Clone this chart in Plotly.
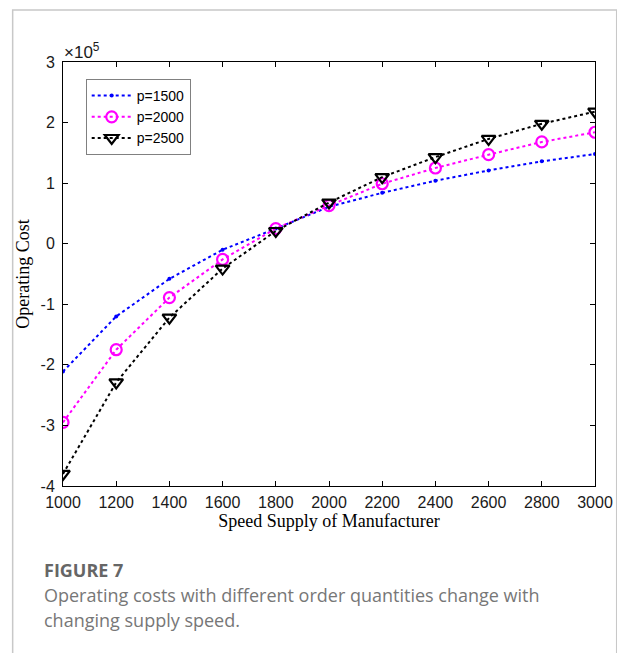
import plotly.graph_objects as go

speed = [1000, 1200, 1400, 1600, 1800, 2000, 2200, 2400, 2600, 2800, 3000]
p1500 = [-2.11, -1.20, -0.58, -0.10, 0.25, 0.61, 0.84, 1.04, 1.21, 1.36, 1.48]
p2000 = [-2.95, -1.75, -0.89, -0.26, 0.25, 0.63, 0.99, 1.25, 1.47, 1.68, 1.84]
p2500 = [-3.80, -2.29, -1.22, -0.41, 0.21, 0.68, 1.10, 1.43, 1.73, 1.98, 2.18]
x_ticks = [1000, 1200, 1400, 1600, 1800, 2000, 2200, 2400, 2600, 2800, 3000]
y_ticks = [-4, -3, -2, -1, 0, 1, 2, 3]
y_tick_text = ["-4", "-3", "-2", "-1", "0", "1", "2", "3"]

# page body has an 8px margin; work in reference pixels and shift
OFF = 8
W, H = 625 - OFF, 653 - OFF
L, R, T, B = 63 - OFF, 602 - OFF, 62 - OFF, 486 - OFF

def px(x):
    return (x - OFF - L) / (R - L)

def py(y):
    return (B - (y - OFF)) / (B - T)

fig = go.Figure()
fig.add_trace(go.Scatter(x=speed, y=p1500, name="p=1500", mode="lines+markers",
                         line=dict(color="#0000ff", width=2, dash="dot"),
                         marker=dict(symbol="circle", size=4, color="#0000ff")))
fig.add_trace(go.Scatter(x=speed, y=p2000, name="p=2000", mode="lines+markers",
                         line=dict(color="#ff00ff", width=2, dash="dot"),
                         marker=dict(symbol="circle-open", size=11, color="#ff00ff",
                                     line=dict(width=2.2, color="#ff00ff"))))
fig.add_trace(go.Scatter(x=speed, y=p2500, name="p=2500", mode="lines+markers",
                         line=dict(color="#000000", width=2, dash="dot"),
                         marker=dict(symbol="triangle-down-open", size=12, color="#000000",
                                     line=dict(width=2.2, color="#000000"))))

axis_common = dict(showline=True, linecolor="black", linewidth=1, mirror="ticks",
                   ticks="inside", ticklen=5, tickcolor="black", showgrid=False,
                   zeroline=False, tickfont=dict(family="Arial, Liberation Sans", size=16, color="#1a1a1a"))

fig.update_layout(
    width=W, height=H,
    margin=dict(l=L, r=W - R, t=T, b=H - B),
    paper_bgcolor="white", plot_bgcolor="white",
    xaxis=dict(range=[1000, 3000], tickvals=x_ticks, ticklabelstandoff=2,
               title=dict(text="Speed Supply of Manufacturer", standoff=2,
                          font=dict(family="Liberation Serif", size=18, color="black")),
               **axis_common),
    yaxis=dict(range=[-4, 3], tickvals=y_ticks, ticktext=y_tick_text, ticklabelstandoff=4,
               title=dict(text="Operating Cost", standoff=6,
                          font=dict(family="Liberation Serif", size=18, color="black")),
               **axis_common),
    legend=dict(x=px(86), y=py(79), xanchor="left", yanchor="top",
                bgcolor="white", bordercolor="#808080", borderwidth=1,
                font=dict(family="Arial, Liberation Sans", size=14, color="black"),
                tracegroupgap=0, itemwidth=40),
    showlegend=True,
)

# outer frame
fig.add_shape(type="rect", xref="paper", yref="paper",
              x0=px(12), x1=px(624), y0=py(720), y1=py(10),
              line=dict(color="#c8c8c8", width=1.5), layer="below")

# exponent label
fig.add_annotation(xref="paper", yref="paper", x=px(62), y=py(51), xanchor="left", yanchor="middle",
                   text="×10<sup>5</sup>", showarrow=False,
                   font=dict(family="Arial, Liberation Sans", size=17, color="#1a1a1a"))

# caption
fig.add_annotation(xref="paper", yref="paper", x=px(42), y=py(570), xanchor="left", yanchor="middle",
                   text="<b>FIGURE 7</b>", showarrow=False,
                   font=dict(family="Open Sans", size=18, color="#666666"))
fig.add_annotation(xref="paper", yref="paper", x=px(42), y=py(595), xanchor="left", yanchor="middle",
                   text="Operating costs with different order quantities change with",
                   showarrow=False, align="left",
                   font=dict(family="Open Sans", size=18, color="#777777"))
fig.add_annotation(xref="paper", yref="paper", x=px(42), y=py(620), xanchor="left", yanchor="middle",
                   text="changing supply speed.",
                   showarrow=False, align="left",
                   font=dict(family="Open Sans", size=18, color="#777777"))

fig.write_html("out.html")
